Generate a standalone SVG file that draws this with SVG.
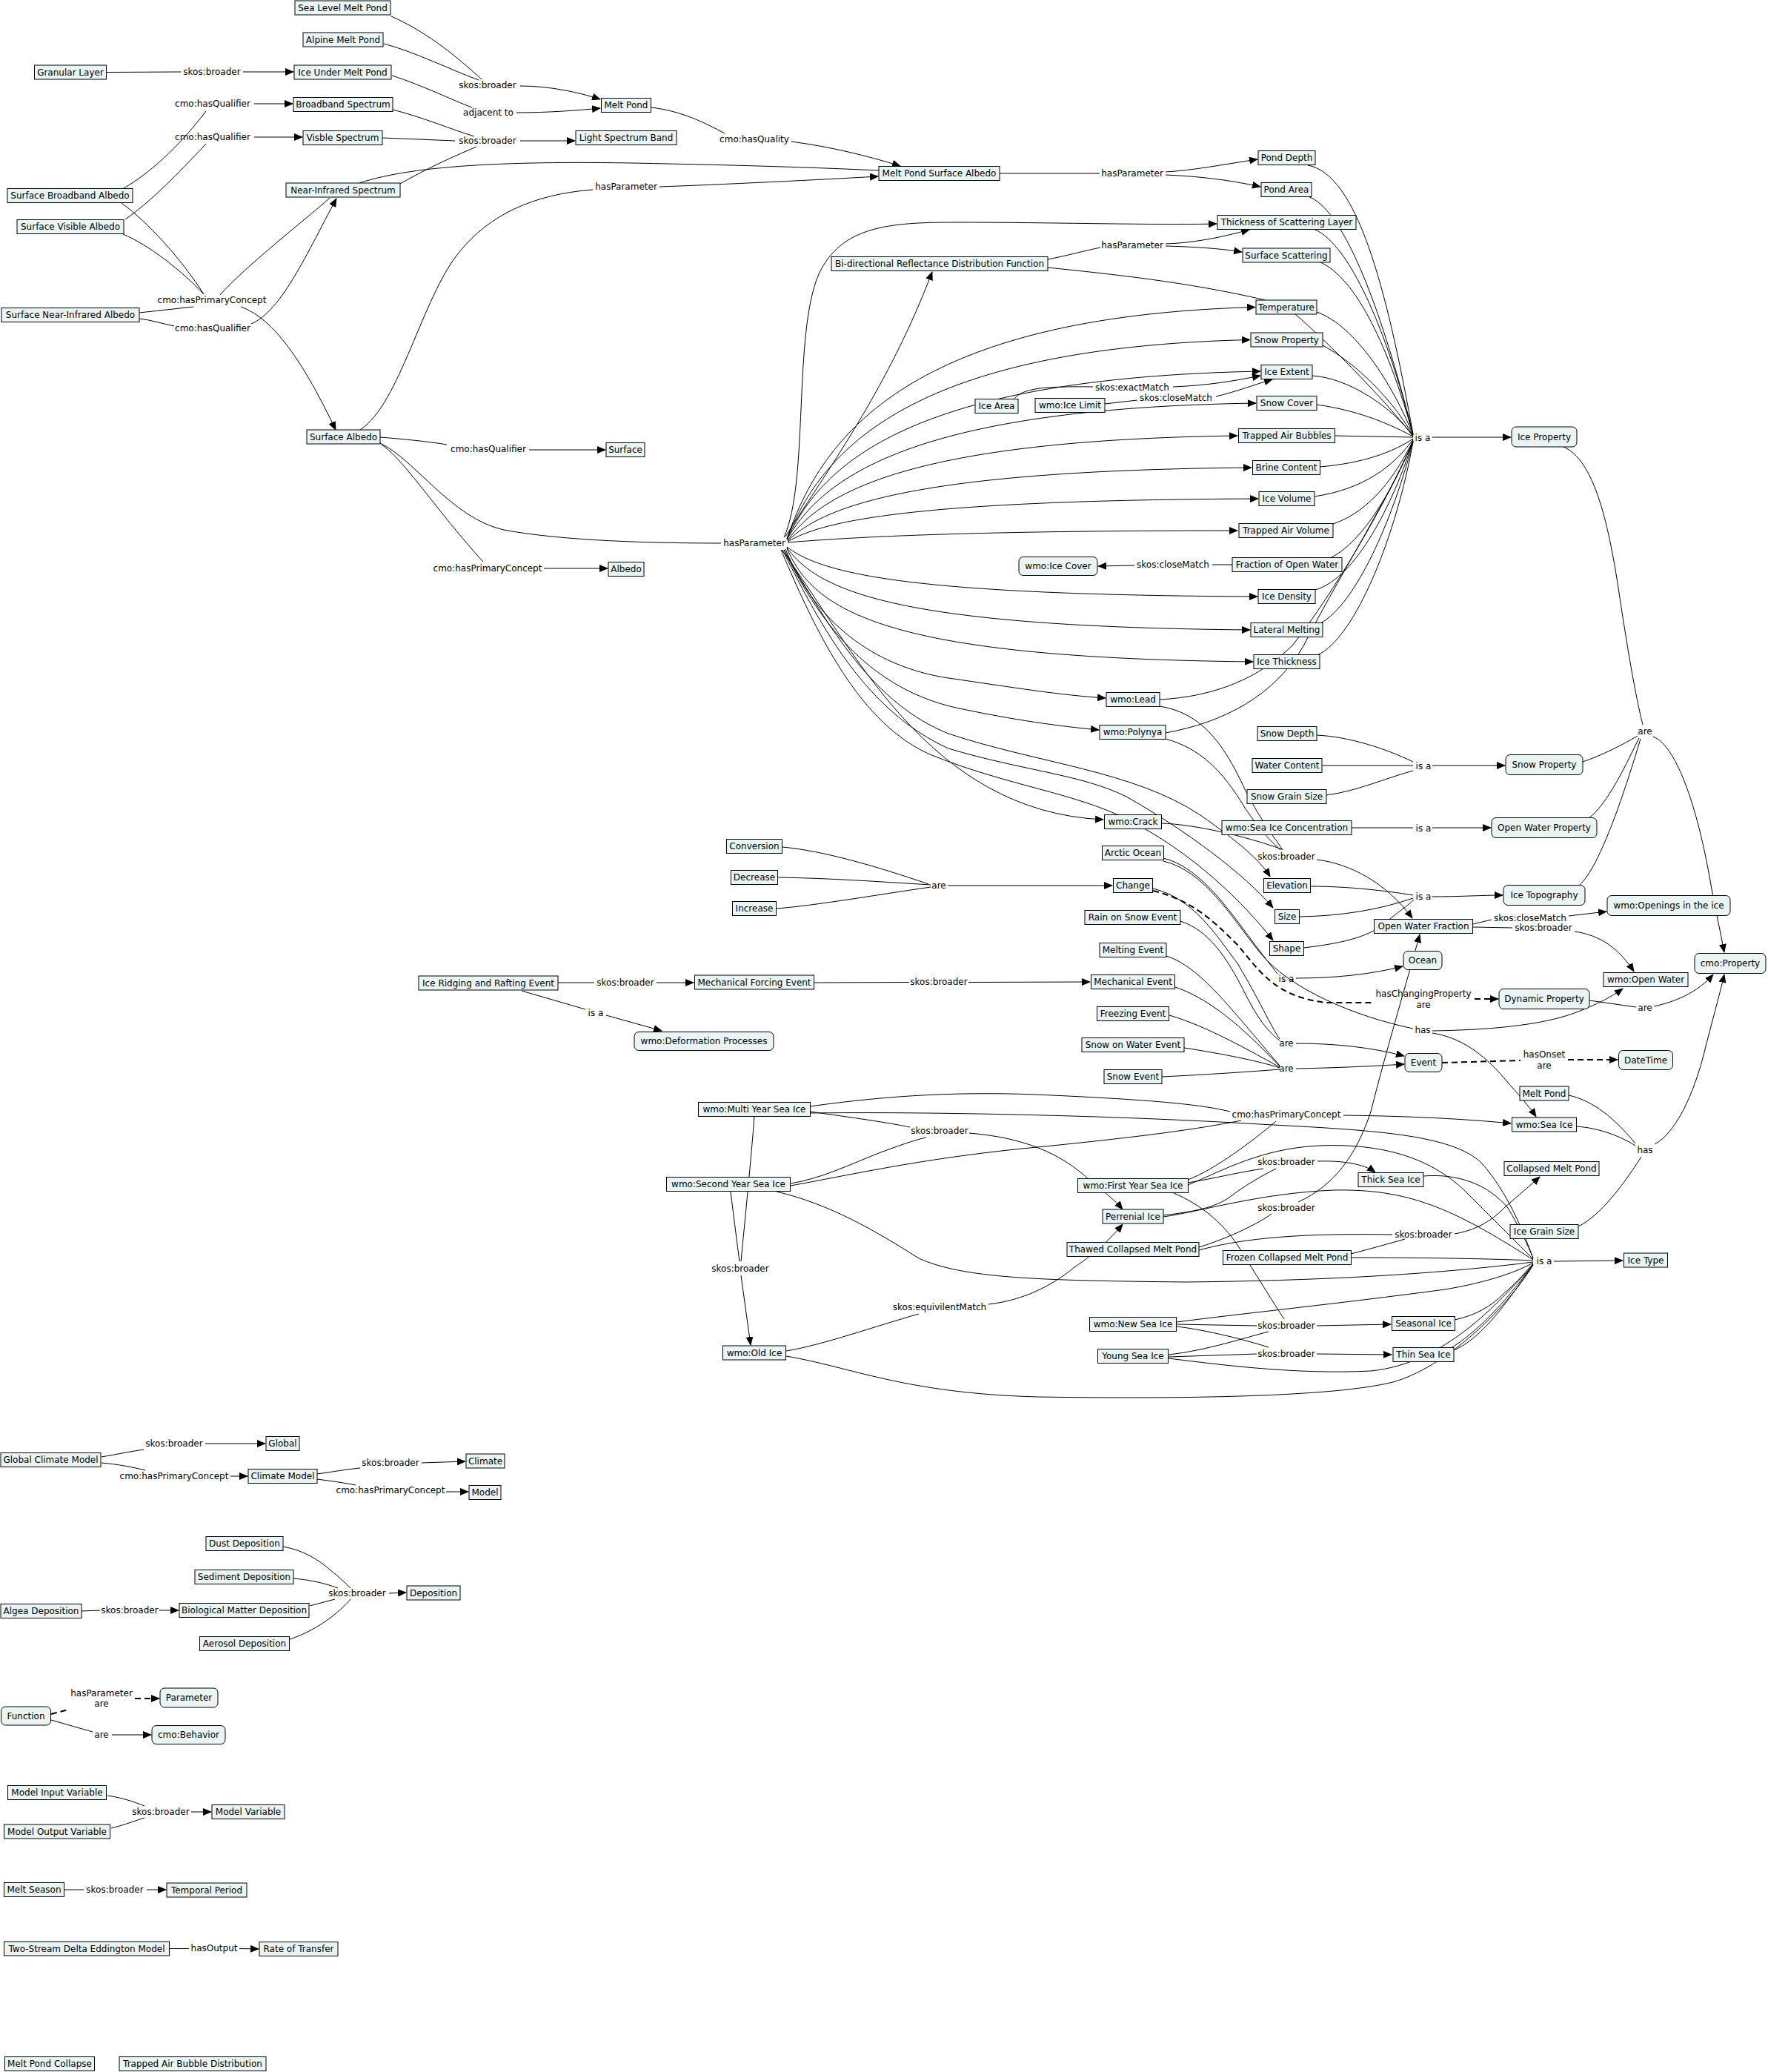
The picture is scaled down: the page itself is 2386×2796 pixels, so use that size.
<svg xmlns="http://www.w3.org/2000/svg" width="2386" height="2796" viewBox="0 0 2386 2796">
<style>
.b{fill:#eaf4f4;stroke:#000;stroke-width:1}
text{font-family:"DejaVu Sans",Verdana,sans-serif;font-size:12px;text-anchor:middle;fill:#000}
.c{fill:none;stroke:#000;stroke-width:1}
.a{marker-end:url(#ah)}
.d{stroke-dasharray:8 5;stroke-width:2}
</style>
<defs>
<marker id="ah" viewBox="0 0 12 10" refX="11" refY="5" markerWidth="12" markerHeight="10" markerUnits="userSpaceOnUse" orient="auto"><path d="M0,0 L12,5 L0,10 z" fill="#000"/></marker>
</defs>
<rect width="2386" height="2796" fill="#fff"/>
<g id="connectors">
<path class="c" d="M143.5,97.5 L244,97"/>
<path class="c a" d="M328,97 L396,97"/>
<path class="c" d="M528,22 C580,45 620,80 650,107"/>
<path class="c" d="M518,59 C560,70 610,95 646,108"/>
<path class="c a" d="M702,116 C740,116 780,124 810,134"/>
<path class="c" d="M529,102 C570,115 610,135 637,145"/>
<path class="c a" d="M697,152 C740,152 780,149 810,146"/>
<path class="c" d="M167,254 C200,235 240,200 278,150"/>
<path class="c a" d="M343,140 L395,140"/>
<path class="c" d="M169,296 C200,275 240,235 278,194"/>
<path class="c a" d="M343,185 L408,185"/>
<path class="c" d="M188,430 C205,432 220,437 235,440"/>
<path class="c a" d="M339,437 C380,420 415,340 454,268"/>
<path class="c" d="M164,274 C200,300 245,350 275,397"/>
<path class="c" d="M166,316 C200,330 245,365 275,397"/>
<path class="c" d="M188,422 L261,414"/>
<path class="c" d="M445,267 C420,290 330,360 297,398"/>
<path class="c a" d="M325,414 C370,430 410,490 453,580"/>
<path class="c" d="M530,148 C570,158 610,175 640,184"/>
<path class="c" d="M516,186 L614,190"/>
<path class="c" d="M540,248 C580,225 615,210 643,198"/>
<path class="c a" d="M702,190 L776,190"/>
<path class="c" d="M485,247 C560,222 700,216 900,221 C1000,223 1100,226 1186,230"/>
<path class="c" d="M486,580 C540,545 570,400 620,340 C660,290 720,262 800,256"/>
<path class="c a" d="M890,252 C950,250 1100,243 1185,238"/>
<path class="c" d="M879,145 C920,150 950,165 978,180"/>
<path class="c a" d="M1068,191 C1120,198 1170,210 1215,224"/>
<path class="c" d="M1349,234 L1484,234"/>
<path class="c a" d="M1573,232 C1610,230 1650,222 1697,215"/>
<path class="c a" d="M1573,236 C1620,238 1660,243 1701,252"/>
<path class="c" d="M1414,350 C1440,345 1465,338 1485,334"/>
<path class="c a" d="M1573,329 C1610,328 1650,320 1686,310"/>
<path class="c a" d="M1573,332 C1610,333 1645,335 1676,340"/>
<path class="c" d="M1414,361 C1500,370 1600,380 1708,405"/>
<path class="c" d="M513,590 C540,592 580,596 603,600"/>
<path class="c a" d="M714,607 L817,607"/>
<path class="c" d="M515,600 C545,620 590,690 652,758"/>
<path class="c a" d="M734,767 L820,767"/>
<path class="c" d="M513,598 C560,620 610,700 680,715 C760,730 880,733 973,733"/>
<path class="c a" d="M1058,725 C1092,650 1070,450 1105,370 C1135,305 1200,300 1290,300 C1420,300 1560,304 1642,302"/>
<path class="c a" d="M1060,724 C1120,630 1200,520 1258,367"/>
<path class="c a" d="M1062,727 C1110,586 1230,427 1694,414.5"/>
<path class="c a" d="M1062,727 C1110,606 1230,469 1687,458.5"/>
<path class="c a" d="M1062,728 C1110,625 1230,510 1701,501"/>
<path class="c a" d="M1062,728 C1110,645 1230,551 1695,544"/>
<path class="c a" d="M1063,729 C1110,664 1230,594 1670,588"/>
<path class="c a" d="M1063,730 C1110,684 1230,635 1689,631"/>
<path class="c a" d="M1063,731 C1110,703 1230,675 1698,673"/>
<path class="c a" d="M1063,732 C1150,725 1300,716 1670,716"/>
<path class="c a" d="M1062,738 C1110,775 1230,803 1697,805"/>
<path class="c a" d="M1062,739 C1105,800 1220,846 1687,850"/>
<path class="c a" d="M1062,740 C1100,830 1210,888 1691,893"/>
<path class="c a" d="M1060,741 C1100,840 1180,900 1280,915 C1370,928 1430,938 1492,942"/>
<path class="c a" d="M1058,742 C1110,850 1180,930 1290,955 C1370,972 1430,980 1483,985"/>
<path class="c a" d="M1055,742 C1150,870 1250,1095 1489,1106"/>
<path class="c a" d="M1058,742 C1120,850 1180,950 1280,990 C1400,1030 1530,1040 1620,1100 C1670,1135 1700,1160 1714,1183"/>
<path class="c a" d="M1056,742 C1110,850 1170,960 1280,1010 C1380,1040 1460,1045 1520,1075 C1600,1120 1680,1180 1718,1225"/>
<path class="c a" d="M1054,742 C1100,850 1160,980 1260,1020 C1360,1060 1450,1070 1520,1105 C1610,1150 1680,1220 1718,1269"/>
<path class="c" d="M1368,539 C1380,525 1400,521 1475,522"/>
<path class="c a" d="M1583,522 C1630,520 1660,515 1701,507"/>
<path class="c" d="M1491,545 L1535,540"/>
<path class="c a" d="M1641,535 C1670,528 1690,520 1717,512"/>
<path class="c" d="M1663,762 L1636,762"/>
<path class="c a" d="M1531,763 L1482,764"/>
<path class="c a" d="M1933,590 L2039,590"/>
<path class="c" d="M1765,223 C1830,235 1870,380 1907,586"/>
<path class="c" d="M1765,265 C1810,280 1860,400 1907,586"/>
<path class="c" d="M1775,310 C1820,330 1870,440 1907,586"/>
<path class="c" d="M1782,354 C1830,375 1875,470 1907,587"/>
<path class="c" d="M1777,421 C1830,440 1880,520 1907,587"/>
<path class="c" d="M1748,424 C1790,460 1860,530 1907,588"/>
<path class="c" d="M1785,466 C1830,490 1880,540 1907,588"/>
<path class="c" d="M1771,507 C1820,510 1880,550 1907,589"/>
<path class="c" d="M1777,546 C1840,555 1880,575 1907,589"/>
<path class="c" d="M1801,588 L1907,590"/>
<path class="c" d="M1781,630 C1840,625 1880,610 1907,592"/>
<path class="c" d="M1774,670 C1840,660 1880,630 1907,593"/>
<path class="c" d="M1799,707 C1850,690 1885,640 1907,594"/>
<path class="c" d="M1797,752 C1840,730 1880,660 1907,595"/>
<path class="c" d="M1775,796 C1830,780 1880,680 1907,595"/>
<path class="c" d="M1782,841 C1830,815 1880,700 1907,596"/>
<path class="c" d="M1778,884 C1830,860 1885,720 1907,596"/>
<path class="c" d="M1565,944 C1640,940 1700,915 1745,870 C1800,800 1870,680 1907,596"/>
<path class="c" d="M1573,989 C1650,975 1720,940 1760,870 C1800,790 1870,680 1907,596"/>
<path class="c" d="M1777,992 C1820,994 1870,1010 1907,1028"/>
<path class="c" d="M1784,1033 L1907,1033"/>
<path class="c" d="M1790,1073 C1830,1068 1870,1050 1907,1040"/>
<path class="c a" d="M1933,1033 L2031,1033"/>
<path class="c" d="M1824,1117 L1907,1117"/>
<path class="c a" d="M1933,1117 L2012,1117"/>
<path class="c" d="M1768,1196 C1820,1196 1870,1202 1907,1208"/>
<path class="c" d="M1754,1237 C1810,1236 1860,1228 1907,1212"/>
<path class="c" d="M1759,1279 C1820,1272 1850,1262 1870,1245 C1885,1232 1900,1222 1908,1214"/>
<path class="c a" d="M1933,1210 C1970,1210 2000,1208 2028,1208"/>
<path class="c" d="M1565,953 C1620,962 1650,1000 1680,1065 C1700,1105 1720,1130 1731,1147"/>
<path class="c" d="M1573,997 C1620,1010 1650,1040 1680,1090 C1700,1120 1715,1135 1728,1147"/>
<path class="c" d="M1567,1111 C1610,1112 1680,1128 1730,1146"/>
<path class="c a" d="M1777,1160 C1820,1165 1870,1190 1906,1239"/>
<path class="c" d="M1988,1247 L2013,1241"/>
<path class="c a" d="M2117,1236 L2168,1230"/>
<path class="c" d="M1988,1251 L2041,1252"/>
<path class="c a" d="M2125,1257 C2160,1262 2185,1280 2205,1311"/>
<path class="c" d="M2110,603 C2150,620 2170,700 2185,800 C2200,900 2210,950 2217,978"/>
<path class="c" d="M2136,1028 C2160,1020 2190,1005 2210,993"/>
<path class="c" d="M2144,1104 C2170,1085 2195,1030 2212,996"/>
<path class="c" d="M2131,1195 C2160,1170 2195,1060 2214,997"/>
<path class="c a" d="M2231,994 C2260,1005 2290,1080 2310,1200 C2318,1240 2323,1265 2327,1285"/>
<path class="c" d="M2145,1350 L2208,1359"/>
<path class="c a" d="M2232,1358 C2260,1352 2290,1340 2312,1315"/>
<path class="c" d="M1570,1158 C1620,1170 1660,1230 1690,1270 C1705,1290 1717,1305 1724,1314"/>
<path class="c a" d="M1749,1320 C1800,1320 1850,1315 1893,1304"/>
<path class="c" d="M1570,1162 C1625,1175 1660,1235 1700,1285 C1740,1335 1830,1372 1907,1388"/>
<path class="c a" d="M1933,1391 C2000,1390 2080,1385 2130,1365 C2160,1353 2175,1345 2190,1334"/>
<path class="c a" d="M1933,1394 C1970,1400 2000,1420 2030,1455 C2050,1478 2063,1492 2073,1507"/>
<path class="c" d="M1618,1683 C1660,1670 1700,1650 1716,1638"/>
<path class="c a" d="M1752,1622 C1800,1600 1830,1560 1850,1500 C1870,1420 1900,1320 1916,1261"/>
<path class="c" d="M1056,1143 C1110,1148 1180,1168 1253,1193"/>
<path class="c" d="M1050,1184 C1120,1185 1190,1190 1256,1194"/>
<path class="c" d="M1048,1226 C1100,1222 1180,1208 1256,1197"/>
<path class="c a" d="M1279,1195 L1501,1195"/>
<path class="c d" d="M1556,1202 C1610,1215 1640,1245 1670,1275 C1700,1310 1720,1345 1790,1353 L1855,1353"/>
<path class="c d a" d="M1990,1348 L2022,1348"/>
<path class="c" d="M1556,1199 C1610,1212 1640,1260 1670,1300 C1700,1350 1715,1385 1727,1402"/>
<path class="c" d="M1593,1243 C1630,1255 1655,1290 1680,1340 C1700,1380 1715,1395 1727,1404"/>
<path class="c" d="M1574,1290 C1620,1305 1660,1360 1727,1438"/>
<path class="c" d="M1586,1332 C1640,1350 1690,1400 1727,1439"/>
<path class="c" d="M1578,1370 C1630,1385 1690,1420 1727,1440"/>
<path class="c" d="M1598,1414 C1650,1422 1700,1432 1727,1441"/>
<path class="c" d="M1568,1453 C1630,1450 1690,1446 1727,1443"/>
<path class="c a" d="M1749,1408 C1800,1408 1850,1413 1895,1425"/>
<path class="c a" d="M1749,1442 C1800,1441 1850,1439 1895,1436"/>
<path class="c d" d="M1946,1434 L2052,1431"/>
<path class="c d a" d="M2116,1430 L2183,1430"/>
<path class="c" d="M752,1326 L802,1326"/>
<path class="c a" d="M886,1326 L936,1326"/>
<path class="c" d="M704,1337 L790,1362"/>
<path class="c a" d="M818,1370 L893,1391"/>
<path class="c" d="M1098,1326 L1227,1325.5"/>
<path class="c a" d="M1307,1325.5 L1471,1325"/>
<path class="c" d="M1093,1493 C1200,1478 1300,1472 1420,1478 C1550,1484 1620,1490 1660,1500"/>
<path class="c" d="M1067,1600 C1150,1585 1250,1562 1400,1548 C1500,1538 1600,1527 1675,1512"/>
<path class="c" d="M1603,1592 C1640,1578 1690,1540 1722,1513"/>
<path class="c a" d="M1813,1505 C1900,1506 1980,1510 2039,1516"/>
<path class="c" d="M1093,1500 C1150,1508 1200,1515 1228,1521"/>
<path class="c" d="M1067,1597 C1110,1590 1150,1570 1186,1556 C1210,1547 1235,1538 1250,1535"/>
<path class="c a" d="M1308,1529 C1380,1535 1430,1555 1470,1592 C1490,1608 1505,1620 1515,1632"/>
<path class="c" d="M1603,1596 C1640,1590 1670,1582 1705,1577"/>
<path class="c" d="M1570,1640 C1610,1635 1640,1630 1660,1615 C1680,1600 1700,1588 1722,1577"/>
<path class="c a" d="M1778,1567 C1810,1566 1840,1570 1856,1582"/>
<path class="c" d="M1018,1507 C1014,1560 1005,1650 1000,1702"/>
<path class="c" d="M986,1608 C990,1640 995,1680 998,1702"/>
<path class="c a" d="M1000,1721 L1013,1815"/>
<path class="c" d="M1061,1823 C1110,1815 1180,1790 1240,1773"/>
<path class="c a" d="M1334,1760 C1380,1755 1420,1735 1450,1710 C1480,1690 1500,1670 1515,1652"/>
<path class="c" d="M1618,1687 C1680,1670 1760,1664 1879,1666"/>
<path class="c" d="M1823,1692 C1850,1685 1875,1678 1896,1672"/>
<path class="c a" d="M1963,1665 C1990,1660 2010,1650 2030,1630 C2050,1612 2065,1600 2078,1588"/>
<path class="c" d="M1093,1502 C1250,1500 1500,1505 1700,1517 C1850,1525 1960,1530 2000,1570 C2035,1610 2055,1660 2069,1698"/>
<path class="c" d="M1603,1599 C1650,1580 1700,1550 1780,1546 C1880,1542 1940,1570 1980,1610 C2020,1650 2050,1680 2069,1699"/>
<path class="c" d="M1570,1642 C1620,1635 1700,1610 1800,1606 C1900,1604 1960,1630 2069,1700"/>
<path class="c" d="M1921,1587 C1970,1583 2010,1600 2035,1630 C2050,1655 2062,1680 2069,1698"/>
<path class="c" d="M1823,1697 C1900,1697 2000,1698 2069,1701"/>
<path class="c" d="M1048,1608 C1120,1625 1180,1660 1240,1698 C1300,1725 1400,1728 1600,1730 C1800,1728 1950,1718 2069,1703"/>
<path class="c" d="M1588,1784 C1680,1772 1800,1760 1950,1740 C2010,1730 2050,1715 2069,1704"/>
<path class="c" d="M1963,1781 C1990,1775 2010,1765 2030,1745 C2050,1728 2060,1715 2069,1705"/>
<path class="c" d="M1962,1822 C1990,1810 2020,1780 2069,1706"/>
<path class="c" d="M1958,1819 C1990,1800 2030,1760 2069,1706"/>
<path class="c" d="M1577,1833 C1650,1842 1750,1855 1850,1850 C1950,1840 2020,1760 2069,1707"/>
<path class="c" d="M1061,1830 C1150,1845 1220,1880 1400,1885 C1600,1888 1800,1885 1880,1865 C1950,1845 2030,1770 2069,1707"/>
<path class="c a" d="M2097,1702 L2190,1701"/>
<path class="c" d="M1588,1787 L1696,1789"/>
<path class="c" d="M1577,1828 C1630,1822 1680,1805 1712,1797"/>
<path class="c" d="M1584,1610 C1620,1625 1650,1650 1670,1680 C1695,1720 1720,1760 1733,1780"/>
<path class="c a" d="M1777,1789 L1877,1787"/>
<path class="c" d="M1577,1831 L1696,1827"/>
<path class="c" d="M1588,1790 C1630,1795 1680,1808 1712,1818"/>
<path class="c a" d="M1777,1827 L1878,1828"/>
<path class="c" d="M2117,1478 C2150,1485 2180,1510 2207,1543"/>
<path class="c" d="M2127,1520 C2160,1522 2190,1535 2207,1546"/>
<path class="c" d="M2130,1655 C2160,1640 2190,1600 2215,1561"/>
<path class="c a" d="M2233,1544 C2260,1530 2285,1480 2300,1420 C2310,1380 2320,1345 2327,1315"/>
<path class="c" d="M137,1966 C160,1962 180,1958 194,1956"/>
<path class="c a" d="M277,1948 L358,1948"/>
<path class="c" d="M137,1974 C160,1976 180,1980 196,1984"/>
<path class="c a" d="M311,1992 L334,1992"/>
<path class="c" d="M428,1989 C450,1986 465,1983 486,1981"/>
<path class="c a" d="M569,1974 L628,1972"/>
<path class="c" d="M428,1996 C450,1999 465,2001 480,2004"/>
<path class="c a" d="M602,2013 L632,2013"/>
<path class="c" d="M382,2087 C410,2092 430,2105 445,2118 C460,2130 468,2138 473,2143"/>
<path class="c" d="M396,2130 C420,2132 440,2137 456,2143"/>
<path class="c" d="M418,2167 L452,2158"/>
<path class="c" d="M391,2212 C410,2206 430,2195 446,2183 C460,2172 468,2164 473,2158"/>
<path class="c a" d="M525,2150 L548,2149"/>
<path class="c" d="M110,2174 L135,2173"/>
<path class="c a" d="M215,2173 L241,2173"/>
<path class="c d" d="M69,2313 L92,2307"/>
<path class="c d a" d="M182,2292 L215,2292"/>
<path class="c" d="M69,2321 L125,2337"/>
<path class="c a" d="M151,2341 L204,2341"/>
<path class="c" d="M145,2423 C165,2426 180,2431 195,2437"/>
<path class="c" d="M150,2467 C170,2462 182,2457 195,2453"/>
<path class="c a" d="M258,2445 L285,2445"/>
<path class="c" d="M87,2550 L113,2550"/>
<path class="c a" d="M198,2550 L224,2550"/>
<path class="c" d="M229,2629.5 L255,2629.5"/>
<path class="c a" d="M323,2629.5 L349,2630"/>
<g id="labels">
<text x="286" y="101">skos:broader</text>
<text x="658" y="119">skos:broader</text>
<text x="659" y="156">adjacent to</text>
<text x="287" y="144">cmo:hasQualifier</text>
<text x="287" y="189">cmo:hasQualifier</text>
<text x="658" y="194">skos:broader</text>
<text x="286" y="409">cmo:hasPrimaryConcept</text>
<text x="287" y="447">cmo:hasQualifier</text>
<text x="845" y="256">hasParameter</text>
<text x="1018" y="192">cmo:hasQuality</text>
<text x="659" y="610">cmo:hasQualifier</text>
<text x="658" y="771">cmo:hasPrimaryConcept</text>
<text x="1018" y="737">hasParameter</text>
<text x="1528" y="238">hasParameter</text>
<text x="1528" y="335">hasParameter</text>
<text x="1528" y="527">skos:exactMatch</text>
<text x="1587" y="541">skos:closeMatch</text>
<text x="1920" y="595">is a</text>
<text x="1583" y="766">skos:closeMatch</text>
<text x="1921" y="1038">is a</text>
<text x="1921" y="1122">is a</text>
<text x="1736" y="1160">skos:broader</text>
<text x="1921" y="1214">is a</text>
<text x="2065" y="1243">skos:closeMatch</text>
<text x="2083" y="1256">skos:broader</text>
<text x="2220" y="991">are</text>
<text x="1736" y="1325">is a</text>
<text x="1921" y="1345">hasChangingProperty</text>
<text x="1921" y="1360">are</text>
<text x="2220" y="1364">are</text>
<text x="1920" y="1394">has</text>
<text x="1736" y="1412">are</text>
<text x="1736" y="1446">are</text>
<text x="2084" y="1427">hasOnset</text>
<text x="2084" y="1442">are</text>
<text x="1267" y="1199">are</text>
<text x="844" y="1330">skos:broader</text>
<text x="1267" y="1329">skos:broader</text>
<text x="804" y="1371">is a</text>
<text x="1736" y="1508">cmo:hasPrimaryConcept</text>
<text x="1268" y="1530">skos:broader</text>
<text x="1736" y="1572">skos:broader</text>
<text x="1736" y="1634">skos:broader</text>
<text x="1921" y="1670">skos:broader</text>
<text x="2084" y="1706">is a</text>
<text x="2220" y="1556">has</text>
<text x="999" y="1716">skos:broader</text>
<text x="1268" y="1768">skos:equivilentMatch</text>
<text x="1736" y="1793">skos:broader</text>
<text x="1736" y="1831">skos:broader</text>
<text x="235" y="1952">skos:broader</text>
<text x="235" y="1996">cmo:hasPrimaryConcept</text>
<text x="527" y="1978">skos:broader</text>
<text x="527" y="2015">cmo:hasPrimaryConcept</text>
<text x="482" y="2154">skos:broader</text>
<text x="175" y="2177">skos:broader</text>
<text x="137" y="2289">hasParameter</text>
<text x="137" y="2303">are</text>
<text x="137" y="2345">are</text>
<text x="217" y="2449">skos:broader</text>
<text x="155" y="2554">skos:broader</text>
<text x="289" y="2633">hasOutput</text>
</g>
</g>
<g id="nodes">
<g id="n-sea-level-melt-pond"><rect class="b" x="398" y="1" width="129" height="19"/><text x="462.5" y="14.5">Sea Level Melt Pond</text></g>
<g id="n-alpine-melt-pond"><rect class="b" x="409" y="44" width="108" height="19"/><text x="463" y="57.5">Alpine Melt Pond</text></g>
<g id="n-granular-layer"><rect class="b" x="46.5" y="88" width="97" height="19"/><text x="95" y="101.5">Granular Layer</text></g>
<g id="n-ice-under-melt-pond"><rect class="b" x="397" y="88" width="131" height="19"/><text x="462.5" y="101.5">Ice Under Melt Pond</text></g>
<g id="n-broadband-spectrum"><rect class="b" x="396" y="131.5" width="134" height="19"/><text x="463" y="145">Broadband Spectrum</text></g>
<g id="n-visble-spectrum"><rect class="b" x="409" y="176.5" width="107" height="19"/><text x="462.5" y="190">Visble Spectrum</text></g>
<g id="n-melt-pond-1"><rect class="b" x="811.5" y="132.5" width="67" height="19"/><text x="845" y="146">Melt Pond</text></g>
<g id="n-light-spectrum-band"><rect class="b" x="777" y="176.5" width="136" height="19"/><text x="845" y="190">Light Spectrum Band</text></g>
<g id="n-surface-broadband-albedo"><rect class="b" x="10" y="254.5" width="169" height="19"/><text x="94.5" y="268">Surface Broadband Albedo</text></g>
<g id="n-surface-visible-albedo"><rect class="b" x="23" y="296.5" width="144" height="19"/><text x="95" y="310">Surface Visible Albedo</text></g>
<g id="n-near-infrared-spectrum"><rect class="b" x="386" y="247" width="154" height="19"/><text x="463" y="260.5">Near-Infrared Spectrum</text></g>
<g id="n-surface-near-infrared-albedo"><rect class="b" x="2" y="415.5" width="186" height="19"/><text x="95" y="429">Surface Near-Infrared Albedo</text></g>
<g id="n-surface-albedo"><rect class="b" x="414" y="580" width="99" height="19"/><text x="463.5" y="593.5">Surface Albedo</text></g>
<g id="n-surface"><rect class="b" x="818" y="597.5" width="52" height="19"/><text x="844" y="611">Surface</text></g>
<g id="n-albedo"><rect class="b" x="821" y="758.5" width="48" height="19"/><text x="845" y="772">Albedo</text></g>
<g id="n-melt-pond-surface-albedo"><rect class="b" x="1186" y="224.5" width="163" height="19"/><text x="1267.5" y="238">Melt Pond Surface Albedo</text></g>
<g id="n-pond-depth"><rect class="b" x="1698" y="203.5" width="77" height="19"/><text x="1736.5" y="217">Pond Depth</text></g>
<g id="n-pond-area"><rect class="b" x="1702" y="246.5" width="68" height="19"/><text x="1736" y="260">Pond Area</text></g>
<g id="n-thickness-of-scattering-layer"><rect class="b" x="1643" y="290.5" width="187" height="19"/><text x="1736.5" y="304">Thickness of Scattering Layer</text></g>
<g id="n-surface-scattering"><rect class="b" x="1677" y="335" width="118" height="19"/><text x="1736" y="348.5">Surface Scattering</text></g>
<g id="n-brdf"><rect class="b" x="1122" y="346.5" width="292" height="19"/><text x="1268" y="360">Bi-directional Reflectance Distribution Function</text></g>
<g id="n-temperature"><rect class="b" x="1695" y="405" width="82" height="19"/><text x="1736" y="418.5">Temperature</text></g>
<g id="n-snow-property-1"><rect class="b" x="1688" y="449" width="97" height="19"/><text x="1736.5" y="462.5">Snow Property</text></g>
<g id="n-ice-extent"><rect class="b" x="1702" y="492.5" width="69" height="19"/><text x="1736.5" y="506">Ice Extent</text></g>
<g id="n-ice-area"><rect class="b" x="1316" y="538.5" width="58" height="19"/><text x="1345" y="552">Ice Area</text></g>
<g id="n-wmo-ice-limit"><rect class="b" x="1397" y="537.5" width="94" height="19"/><text x="1444" y="551">wmo:Ice Limit</text></g>
<g id="n-snow-cover"><rect class="b" x="1696" y="534.5" width="81" height="19"/><text x="1736.5" y="548">Snow Cover</text></g>
<g id="n-trapped-air-bubbles"><rect class="b" x="1671.5" y="578.5" width="130" height="19"/><text x="1736.5" y="592">Trapped Air Bubbles</text></g>
<g id="n-brine-content"><rect class="b" x="1690.5" y="621.5" width="91" height="19"/><text x="1736" y="635">Brine Content</text></g>
<g id="n-ice-volume"><rect class="b" x="1699" y="663.5" width="75" height="19"/><text x="1736.5" y="677">Ice Volume</text></g>
<g id="n-trapped-air-volume"><rect class="b" x="1672" y="706.5" width="127" height="19"/><text x="1735.5" y="720">Trapped Air Volume</text></g>
<g id="n-ice-property"><rect class="b" x="2040" y="576" width="88" height="27" rx="6"/><text x="2084" y="593.5">Ice Property</text></g>
<g id="n-wmo-ice-cover"><rect class="b" x="1375" y="751.5" width="106" height="25" rx="6"/><text x="1428" y="768">wmo:Ice Cover</text></g>
<g id="n-fraction-of-open-water"><rect class="b" x="1663" y="752.5" width="148" height="19"/><text x="1737" y="766">Fraction of Open Water</text></g>
<g id="n-ice-density"><rect class="b" x="1698" y="795.5" width="77" height="19"/><text x="1736.5" y="809">Ice Density</text></g>
<g id="n-lateral-melting"><rect class="b" x="1688" y="840.5" width="97" height="19"/><text x="1736.5" y="854">Lateral Melting</text></g>
<g id="n-ice-thickness"><rect class="b" x="1692" y="883.5" width="89" height="19"/><text x="1736.5" y="897">Ice Thickness</text></g>
<g id="n-wmo-lead"><rect class="b" x="1493" y="934.5" width="72" height="19"/><text x="1529" y="948">wmo:Lead</text></g>
<g id="n-wmo-polynya"><rect class="b" x="1484" y="978.5" width="89" height="19"/><text x="1528.5" y="992">wmo:Polynya</text></g>
<g id="n-snow-depth"><rect class="b" x="1697" y="980.5" width="80" height="19"/><text x="1737" y="994">Snow Depth</text></g>
<g id="n-water-content"><rect class="b" x="1690" y="1023.5" width="94" height="19"/><text x="1737" y="1037">Water Content</text></g>
<g id="n-snow-grain-size"><rect class="b" x="1683" y="1065.5" width="107" height="19"/><text x="1736.5" y="1079">Snow Grain Size</text></g>
<g id="n-wmo-sea-ice-concentration"><rect class="b" x="1649" y="1107.5" width="175" height="19"/><text x="1736.5" y="1121">wmo:Sea Ice Concentration</text></g>
<g id="n-wmo-crack"><rect class="b" x="1490.5" y="1099.5" width="77" height="19"/><text x="1529" y="1113">wmo:Crack</text></g>
<g id="n-snow-property-2"><rect class="b" x="2032" y="1018.5" width="104" height="27" rx="6"/><text x="2084" y="1036">Snow Property</text></g>
<g id="n-open-water-property"><rect class="b" x="2013" y="1103.5" width="142" height="27" rx="6"/><text x="2084" y="1121">Open Water Property</text></g>
<g id="n-conversion"><rect class="b" x="980.5" y="1132.5" width="75" height="19"/><text x="1018" y="1146">Conversion</text></g>
<g id="n-decrease"><rect class="b" x="986.5" y="1174.5" width="63" height="19"/><text x="1018" y="1188">Decrease</text></g>
<g id="n-increase"><rect class="b" x="988.5" y="1216.5" width="59" height="19"/><text x="1018" y="1230">Increase</text></g>
<g id="n-change"><rect class="b" x="1502.5" y="1185.5" width="53" height="19"/><text x="1529" y="1199">Change</text></g>
<g id="n-arctic-ocean"><rect class="b" x="1487.5" y="1141.5" width="83" height="19"/><text x="1529" y="1155">Arctic Ocean</text></g>
<g id="n-elevation"><rect class="b" x="1705.5" y="1185.5" width="63" height="19"/><text x="1737" y="1199">Elevation</text></g>
<g id="n-ice-topography"><rect class="b" x="2029" y="1194.5" width="110" height="27" rx="6"/><text x="2084" y="1212">Ice Topography</text></g>
<g id="n-wmo-openings-in-the-ice"><rect class="b" x="2169" y="1208.5" width="166" height="27" rx="6"/><text x="2252" y="1226">wmo:Openings in the ice</text></g>
<g id="n-size"><rect class="b" x="1720.5" y="1227.5" width="33" height="19"/><text x="1737" y="1241">Size</text></g>
<g id="n-open-water-fraction"><rect class="b" x="1854.5" y="1240.5" width="133" height="19"/><text x="1921" y="1254">Open Water Fraction</text></g>
<g id="n-rain-on-snow-event"><rect class="b" x="1464" y="1228.5" width="129" height="19"/><text x="1528.5" y="1242">Rain on Snow Event</text></g>
<g id="n-shape"><rect class="b" x="1713.5" y="1270.5" width="46" height="19"/><text x="1736.5" y="1284">Shape</text></g>
<g id="n-ocean"><rect class="b" x="1894" y="1283.5" width="52" height="25" rx="6"/><text x="1920" y="1300">Ocean</text></g>
<g id="n-cmo-property"><rect class="b" x="2287" y="1286.5" width="96" height="27" rx="6"/><text x="2335" y="1304">cmo:Property</text></g>
<g id="n-melting-event"><rect class="b" x="1484" y="1272.5" width="90" height="19"/><text x="1529" y="1286">Melting Event</text></g>
<g id="n-wmo-open-water"><rect class="b" x="2164" y="1312.5" width="114" height="19"/><text x="2221" y="1326">wmo:Open Water</text></g>
<g id="n-mechanical-event"><rect class="b" x="1472.5" y="1315.5" width="113" height="19"/><text x="1529" y="1329">Mechanical Event</text></g>
<g id="n-dynamic-property"><rect class="b" x="2023" y="1334.5" width="122" height="27" rx="6"/><text x="2084" y="1352">Dynamic Property</text></g>
<g id="n-ice-ridging-and-rafting-event"><rect class="b" x="565" y="1317" width="188" height="19"/><text x="659" y="1330.5">Ice Ridging and Rafting Event</text></g>
<g id="n-mechanical-forcing-event"><rect class="b" x="937.5" y="1316" width="161" height="19"/><text x="1018" y="1329.5">Mechanical Forcing Event</text></g>
<g id="n-wmo-deformation-processes"><rect class="b" x="856" y="1392.5" width="188" height="25" rx="6"/><text x="950" y="1409">wmo:Deformation Processes</text></g>
<g id="n-freezing-event"><rect class="b" x="1480.5" y="1358.5" width="97" height="19"/><text x="1529" y="1372">Freezing Event</text></g>
<g id="n-snow-on-water-event"><rect class="b" x="1460" y="1400.5" width="138" height="19"/><text x="1529" y="1414">Snow on Water Event</text></g>
<g id="n-event"><rect class="b" x="1896" y="1421.5" width="50" height="25" rx="6"/><text x="1921" y="1438">Event</text></g>
<g id="n-datetime"><rect class="b" x="2184.5" y="1417.5" width="73" height="26" rx="6"/><text x="2221" y="1434.5">DateTime</text></g>
<g id="n-snow-event"><rect class="b" x="1490" y="1443.5" width="78" height="19"/><text x="1529" y="1457">Snow Event</text></g>
<g id="n-wmo-multi-year-sea-ice"><rect class="b" x="942.5" y="1487.5" width="151" height="19"/><text x="1018" y="1501">wmo:Multi Year Sea Ice</text></g>
<g id="n-melt-pond-2"><rect class="b" x="2051" y="1466" width="66" height="19"/><text x="2084" y="1479.5">Melt Pond</text></g>
<g id="n-wmo-sea-ice"><rect class="b" x="2040.5" y="1508" width="87" height="19"/><text x="2084" y="1521.5">wmo:Sea Ice</text></g>
<g id="n-collapsed-melt-pond"><rect class="b" x="2030" y="1567.5" width="128" height="19"/><text x="2094" y="1581">Collapsed Melt Pond</text></g>
<g id="n-thick-sea-ice"><rect class="b" x="1833" y="1582.5" width="88" height="19"/><text x="1877" y="1596">Thick Sea Ice</text></g>
<g id="n-wmo-second-year-sea-ice"><rect class="b" x="899.5" y="1588.5" width="167" height="19"/><text x="983" y="1602">wmo:Second Year Sea Ice</text></g>
<g id="n-wmo-first-year-sea-ice"><rect class="b" x="1454.5" y="1590.5" width="149" height="19"/><text x="1529" y="1604">wmo:First Year Sea Ice</text></g>
<g id="n-perrenial-ice"><rect class="b" x="1488" y="1632" width="82" height="19"/><text x="1529" y="1645.5">Perrenial Ice</text></g>
<g id="n-ice-grain-size"><rect class="b" x="2038" y="1652.5" width="92" height="19"/><text x="2084" y="1666">Ice Grain Size</text></g>
<g id="n-thawed-collapsed-melt-pond"><rect class="b" x="1440" y="1676.5" width="178" height="19"/><text x="1529" y="1690">Thawed Collapsed Melt Pond</text></g>
<g id="n-frozen-collapsed-melt-pond"><rect class="b" x="1650.5" y="1687.5" width="173" height="19"/><text x="1737" y="1701">Frozen Collapsed Melt Pond</text></g>
<g id="n-ice-type"><rect class="b" x="2191.5" y="1691" width="59" height="19"/><text x="2221" y="1704.5">Ice Type</text></g>
<g id="n-wmo-new-sea-ice"><rect class="b" x="1470.5" y="1777.5" width="117" height="19"/><text x="1529" y="1791">wmo:New Sea Ice</text></g>
<g id="n-seasonal-ice"><rect class="b" x="1878.5" y="1776.5" width="85" height="19"/><text x="1921" y="1790">Seasonal Ice</text></g>
<g id="n-young-sea-ice"><rect class="b" x="1481.5" y="1820.5" width="95" height="19"/><text x="1529" y="1834">Young Sea Ice</text></g>
<g id="n-thin-sea-ice"><rect class="b" x="1880" y="1818.5" width="82" height="19"/><text x="1921" y="1832">Thin Sea Ice</text></g>
<g id="n-wmo-old-ice"><rect class="b" x="975.5" y="1816" width="85" height="19"/><text x="1018" y="1829.5">wmo:Old Ice</text></g>
<g id="n-global"><rect class="b" x="359" y="1938.5" width="45" height="19"/><text x="381.5" y="1952">Global</text></g>
<g id="n-global-climate-model"><rect class="b" x="1" y="1960.5" width="135" height="19"/><text x="68.5" y="1974">Global Climate Model</text></g>
<g id="n-climate"><rect class="b" x="629" y="1962" width="52" height="19"/><text x="655" y="1975.5">Climate</text></g>
<g id="n-climate-model"><rect class="b" x="335" y="1982.5" width="93" height="19"/><text x="381.5" y="1996">Climate Model</text></g>
<g id="n-model"><rect class="b" x="633" y="2004.5" width="43" height="19"/><text x="654.5" y="2018">Model</text></g>
<g id="n-dust-deposition"><rect class="b" x="278" y="2073.5" width="104" height="19"/><text x="330" y="2087">Dust Deposition</text></g>
<g id="n-sediment-deposition"><rect class="b" x="263" y="2118.5" width="133" height="19"/><text x="329.5" y="2132">Sediment Deposition</text></g>
<g id="n-deposition"><rect class="b" x="549" y="2140" width="72" height="19"/><text x="585" y="2153.5">Deposition</text></g>
<g id="n-algea-deposition"><rect class="b" x="1" y="2164.5" width="109" height="19"/><text x="55.5" y="2178">Algea Deposition</text></g>
<g id="n-biological-matter-deposition"><rect class="b" x="242" y="2163.5" width="175" height="19"/><text x="329.5" y="2177">Biological Matter Deposition</text></g>
<g id="n-aerosol-deposition"><rect class="b" x="269.5" y="2208.5" width="121" height="19"/><text x="330" y="2222">Aerosol Deposition</text></g>
<g id="n-parameter"><rect class="b" x="216" y="2278" width="78" height="26" rx="6"/><text x="255" y="2295">Parameter</text></g>
<g id="n-function"><rect class="b" x="1.5" y="2303" width="67" height="25" rx="6"/><text x="35" y="2319.5">Function</text></g>
<g id="n-cmo-behavior"><rect class="b" x="205" y="2328.5" width="99" height="25" rx="6"/><text x="254.5" y="2345">cmo:Behavior</text></g>
<g id="n-model-input-variable"><rect class="b" x="10.5" y="2409.5" width="133" height="19"/><text x="77" y="2423">Model Input Variable</text></g>
<g id="n-model-output-variable"><rect class="b" x="5.5" y="2462" width="143" height="19"/><text x="77" y="2475.5">Model Output Variable</text></g>
<g id="n-model-variable"><rect class="b" x="286" y="2435.5" width="98" height="19"/><text x="335" y="2449">Model Variable</text></g>
<g id="n-melt-season"><rect class="b" x="5.5" y="2540.5" width="81" height="19"/><text x="46" y="2554">Melt Season</text></g>
<g id="n-temporal-period"><rect class="b" x="225" y="2541" width="108" height="19"/><text x="279" y="2554.5">Temporal Period</text></g>
<g id="n-two-stream-delta-eddington-model"><rect class="b" x="5.5" y="2620" width="223" height="19"/><text x="117" y="2633.5">Two-Stream Delta Eddington Model</text></g>
<g id="n-rate-of-transfer"><rect class="b" x="350" y="2620.5" width="106" height="19"/><text x="403" y="2634">Rate of Transfer</text></g>
<g id="n-melt-pond-collapse"><rect class="b" x="6.5" y="2775.5" width="121" height="19"/><text x="67" y="2789">Melt Pond Collapse</text></g>
<g id="n-trapped-air-bubble-distribution"><rect class="b" x="161" y="2775.5" width="198" height="19"/><text x="260" y="2789">Trapped Air Bubble Distribution</text></g>
</g>
</svg>
